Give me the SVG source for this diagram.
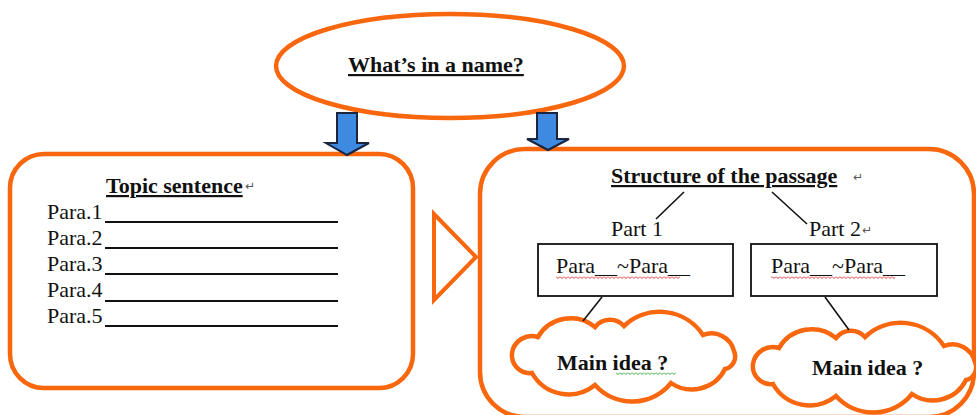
<svg xmlns="http://www.w3.org/2000/svg" width="976" height="415" viewBox="0 0 976 415">
<defs>
<style>
.org{fill:#fff;stroke:#F8670E;stroke-width:4.5}
.tri{fill:none;stroke:#F8670E;stroke-width:4;stroke-linejoin:miter}
.barrow{fill:#3E8AE0;stroke:#1B2540;stroke-width:2;stroke-linejoin:miter}
.box{fill:#fff;stroke:#111;stroke-width:1.8}
.ln{stroke:#111;stroke-width:1.6;fill:none}
.t{font-family:"Liberation Serif","Times New Roman",serif;font-size:22px;fill:#111}
.b{font-weight:bold}
.u{text-decoration:underline}
.ret{font-family:"DejaVu Sans",sans-serif;font-size:12px;fill:#555}
.rule{stroke:#111;stroke-width:2}
</style>
<pattern id="wavyRed" width="4" height="3" patternUnits="userSpaceOnUse"><path d="M0 0.5 L2 2.5 L4 0.5" stroke="#E02020" fill="none" stroke-width="0.9"/></pattern>
<pattern id="wavyGreen" width="4" height="3" patternUnits="userSpaceOnUse"><path d="M0 0.5 L2 2.5 L4 0.5" stroke="#22A022" fill="none" stroke-width="0.9"/></pattern>
<path id="cloud" d="M0,-30 A52,52 0 0 1 79,-21 A23,23 0 0 1 110,-5 A13,13 0 0 1 101,13 A37,37 0 0 1 47,27 A50,50 0 0 1 -29,29 A42,42 0 0 1 -92,17 A18,18 0 0 1 -112,-3 A20,20 0 0 1 -86,-19 A38,38 0 0 1 -29,-29 A19,19 0 0 1 0,-30 Z"/>
</defs>
<rect width="976" height="415" fill="#fff"/>

<g id="left-panel">
<rect class="org" x="10" y="154" width="403" height="234" rx="34"/>
<text class="t b u" x="106" y="193">Topic sentence</text>
<text class="ret" x="245" y="190">↵</text>
<text class="t" x="47" y="219">Para.1</text>
<line class="rule" x1="105" y1="222" x2="338" y2="222"/>
<text class="t" x="47" y="245">Para.2</text>
<line class="rule" x1="105" y1="248" x2="338" y2="248"/>
<text class="t" x="47" y="271">Para.3</text>
<line class="rule" x1="105" y1="274" x2="338" y2="274"/>
<text class="t" x="47" y="297">Para.4</text>
<line class="rule" x1="105" y1="301" x2="338" y2="301"/>
<text class="t" x="47" y="323">Para.5</text>
<line class="rule" x1="105" y1="326" x2="338" y2="326"/>
</g>

<g id="right-panel">
<rect class="org" x="480" y="149" width="494" height="268" rx="45"/>
<text class="t b u" x="611" y="183">Structure of the passage</text>
<text class="ret" x="853" y="181">↵</text>
</g>

<g id="title">
<ellipse class="org" cx="450" cy="66" rx="174" ry="52"/>
<text class="t b u" x="348" y="72">What’s in a name?</text>
</g>

<g id="arrow-left">
<path class="barrow" d="M337,113 H357 V143 H369 L347,155 L326,143 H337 Z"/>
</g>
<g id="arrow-right">
<path class="barrow" d="M537,113 H557 V139 H569 L548,150 L527,139 H537 Z"/>
</g>

<g id="triangle">
<polygon class="tri" points="434,214 476,257 434,300"/>
</g>

<g id="part1">
<text class="t" x="611" y="236">Part 1</text>
</g>
<g id="part2">
<text class="t" x="809" y="236">Part 2</text>
<text class="ret" x="862" y="234">↵</text>
</g>

<g id="box1">
<rect class="box" x="538" y="244" width="195" height="52"/>
<text class="t" x="556" y="273">Para__~Para__</text>
<rect x="556" y="276" width="124" height="3" fill="url(#wavyRed)"/>
</g>
<g id="box2">
<rect class="box" x="751" y="244" width="186" height="52"/>
<text class="t" x="771" y="273">Para__~Para__</text>
<rect x="771" y="276" width="124" height="3" fill="url(#wavyRed)"/>
</g>

<g id="cloud1">
<use href="#cloud" class="org" transform="translate(624,356)"/>
<text class="t b" x="557" y="370">Main idea ?</text>
<rect x="616" y="372" width="60" height="3" fill="url(#wavyGreen)"/>
</g>
<g id="cloud2">
<use href="#cloud" class="org" transform="translate(865,367)"/>
<text class="t b" x="812" y="375">Main idea ?</text>
</g>

<g id="connectors">
<line class="ln" x1="684" y1="192" x2="656" y2="219"/>
<line class="ln" x1="772" y1="192" x2="807" y2="224"/>
<line class="ln" x1="602" y1="297" x2="583" y2="321"/>
<line class="ln" x1="825" y1="297" x2="849" y2="330"/>
</g>
</svg>
